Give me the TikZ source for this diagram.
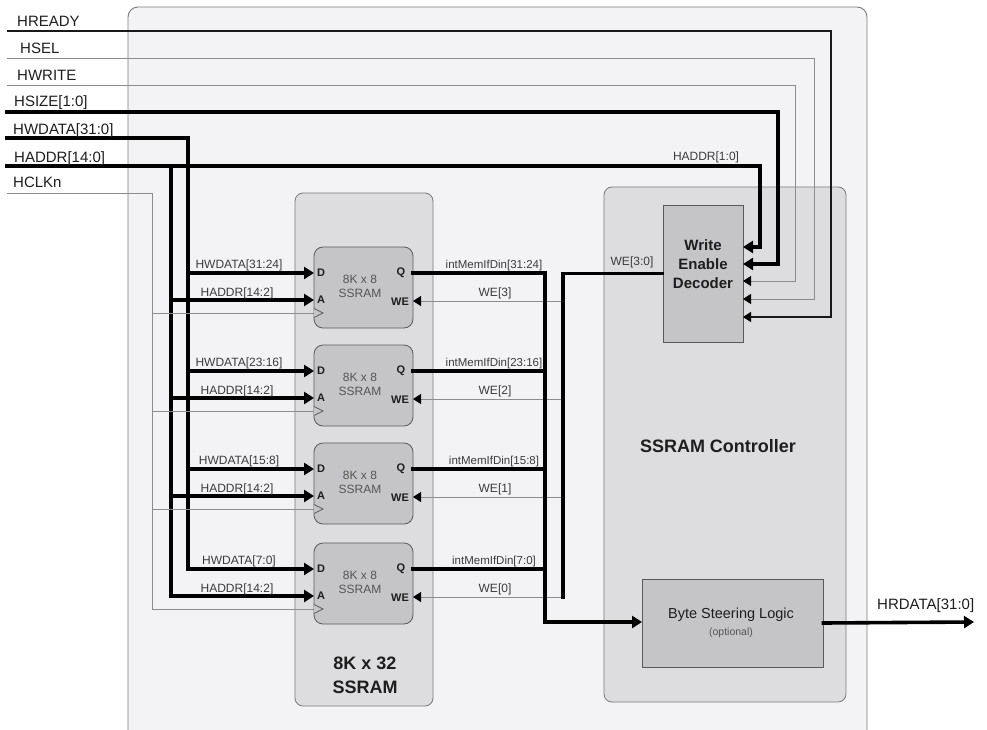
\documentclass[tikz,border=0pt]{standalone}
\usepackage{fontspec}
\setmainfont{Liberation Sans}
\usetikzlibrary{arrows.meta}
\definecolor{outerfill}{HTML}{F3F2F5}
\definecolor{midfill}{HTML}{DDDCDF}
\definecolor{blkfill}{HTML}{C5C4C7}
\definecolor{boxedge}{HTML}{7A7A7A}
\definecolor{blkedge}{HTML}{5A5A5A}
\definecolor{wiregray}{HTML}{8C8C8C}
\definecolor{txtdark}{HTML}{1E1E1E}
\definecolor{txtmid}{HTML}{3C3C3C}
\definecolor{txtgray}{HTML}{555555}
\begin{document}
\begin{tikzpicture}[x=1pt,y=-1pt,
  bus/.style={line width=3.6pt,draw=black,line cap=rect},
  wire/.style={line width=0.9pt,draw=wiregray},
  dwire/.style={line width=1.1pt,draw=black!90},
  bhead/.style={-{Triangle[length=10pt,width=12pt]}},
  shead/.style={-{Triangle[length=8pt,width=10pt,color=black]}},
  container/.style={draw=boxedge,fill=midfill,rounded corners=8pt,line width=0.8pt,inner sep=0},
  blk/.style={draw=blkedge,fill=blkfill,rounded corners=9pt,line width=0.8pt,minimum width=99pt,minimum height=81pt,inner sep=0},
  sqblk/.style={draw=blkedge,fill=blkfill,line width=0.8pt,inner sep=0},
  sig/.style={font=\fontsize{15}{18}\selectfont,text=txtdark,inner sep=0,anchor=base west},
  lab/.style={font=\fontsize{12}{14}\selectfont,text=txtmid,inner sep=0,anchor=base},
  mlab/.style={font=\fontsize{11.5}{14}\selectfont,text=txtmid,inner sep=0,anchor=base},
  pin/.style={font=\bfseries\fontsize{11}{13}\selectfont,text=txtdark,inner sep=0},
  title/.style={font=\bfseries\fontsize{18}{24}\selectfont,text=txtdark,align=center,inner sep=0},
]
\useasboundingbox (0,0) rectangle (987,730);
\fill[white] (0,0) rectangle (987,730);
\begin{scope}
\clip (0,0) rectangle (987,730);
\draw[draw=boxedge,fill=outerfill,rounded corners=10pt,line width=0.9pt] (128,7) rectangle (867,745);
\end{scope}

% containers and blocks
\node[container,minimum width=138pt,minimum height=513pt] (sram) at (364,449.5) {};
\node[container,minimum width=242pt,minimum height=515pt] (ctrl) at (725,444.5) {};
\node[sqblk,minimum width=80pt,minimum height=137pt] (dec) at (703,273.5) {};
\node[sqblk,minimum width=181pt,minimum height=88pt] (bsl) at (732.5,623) {};

\node[title] (sramt) at (365,675) {8K x 32\\SSRAM};
\node[title] (ctrlt) at (718,446) {SSRAM Controller};
\node[font=\bfseries\fontsize{15}{19}\selectfont,text=txtdark,align=center,inner sep=0] (dect) at (703,264) {Write\\Enable\\Decoder};
\node[font=\fontsize{14.5}{17}\selectfont,text=txtdark,inner sep=0] (bslt) at (731,615) {Byte Steering Logic};
\node[font=\fontsize{10.5}{12}\selectfont,text=txtgray,inner sep=0] (opt) at (731,633) {(optional)};

% pin coordinates on the controller side
\coordinate (hrS) at (7,31);
\coordinate (hsS) at (7,58);
\coordinate (hwrS) at (7,85);
\coordinate (hzS) at (7,112);
\coordinate (hwS) at (7,138);
\coordinate (haS) at (7,166);
\coordinate (hcS) at (7,193);
\coordinate (inAddr) at (743,247);
\coordinate (inSize) at (743,264);
\coordinate (inWrite) at (743,281);
\coordinate (inSel) at (743,299);
\coordinate (inRdy) at (743,317);
\coordinate (bslIn) at (642,622);
\coordinate (hrd) at (974,622);

% top signals into decoder
\draw[dwire,shead] (hrS) -| (831,317) -- (inRdy);
\draw[wire,shead] (hsS) -| (814,299) -- (inSel);
\draw[wire,shead] (hwrS) -| (795,281) -- (inWrite);
\draw[bus,bhead] (hzS) -| (778,264) -- (inSize);
\draw[bus,bhead] (haS) -| (760,247) -- (inAddr);

% vertical distribution buses
\draw[bus] (hwS) -| (188,569);
\draw[bus] (171,166) -- (171,596);
\draw[wire] (hcS) -| (152,609);

% SSRAM blocks
\foreach \i/\t/\dl/\wl in {1/247/31:24/3, 2/345/23:16/2, 3/443/15:8/1, 4/543/7:0/0} {
  \node[blk] (b\i) at (363.5,\t+40.5) {};
  \node[font=\fontsize{12}{14}\selectfont,text=txtgray,align=center,inner sep=0] (bt\i) at (360,\t+39) {8K x 8\\SSRAM};
  \coordinate (d\i) at (314,\t+26);
  \coordinate (a\i) at (314,\t+53);
  \coordinate (c\i) at (314,\t+66);
  \coordinate (q\i) at (413,\t+26);
  \coordinate (w\i) at (413,\t+54);
  \draw[bus,bhead] (188,\t+26) -- (d\i);
  \draw[bus,bhead] (171,\t+53) -- (a\i);
  \draw[wire] (152,\t+66) -- (c\i);
  \draw[draw=blkedge,line width=0.8pt,fill=blkfill] (314,\t+61.5) -- (323,\t+66) -- (314,\t+70.5);
  \draw[bus] (q\i) -- (545,\t+26);
  \draw[wire,shead] (563,\t+54) -- (w\i);
  \node[pin] (pd\i) at (321,\t+26) {D};
  \node[pin] (pa\i) at (321,\t+53) {A};
  \node[pin] (pq\i) at (401,\t+26) {Q};
  \node[pin] (pw\i) at (400,\t+55) {WE};
  \node[lab] (ld\i) at (239,\t+21.5) {HWDATA[\dl]};
  \node[lab] (la\i) at (237,\t+49) {HADDR[14:2]};
  \node[mlab] (lq\i) at (494,\t+21.5) {intMemIfDin[\dl]};
  \node[lab] (lw\i) at (495,\t+49.5) {WE[\wl]};
}

% read data bus and write-enable bus
\draw[bus,bhead] (545,273) -- (545,622) -- (bslIn);
\draw[bus] (dec.west) -- (563,273.5) -- (563,597);
\draw[bus,bhead] (bsl.east) -- (hrd);

% labels
\node[sig] (tRdy) at (17,27) {HREADY};
\node[sig] (tSel) at (20,54) {HSEL};
\node[sig] (tWr) at (17,81) {HWRITE};
\node[sig] (tSz) at (14,107) {HSIZE[1:0]};
\node[sig] (tWd) at (13,135) {HWDATA[31:0]};
\node[sig] (tAd) at (14,163) {HADDR[14:0]};
\node[sig] (tCk) at (13,188) {HCLKn};
\node[lab] (tA10) at (706,161) {HADDR[1:0]};
\node[lab] (tWe) at (632,265) {WE[3:0]};
\node[sig] (tRd) at (877,609) {HRDATA[31:0]};
\end{tikzpicture}
\end{document}
